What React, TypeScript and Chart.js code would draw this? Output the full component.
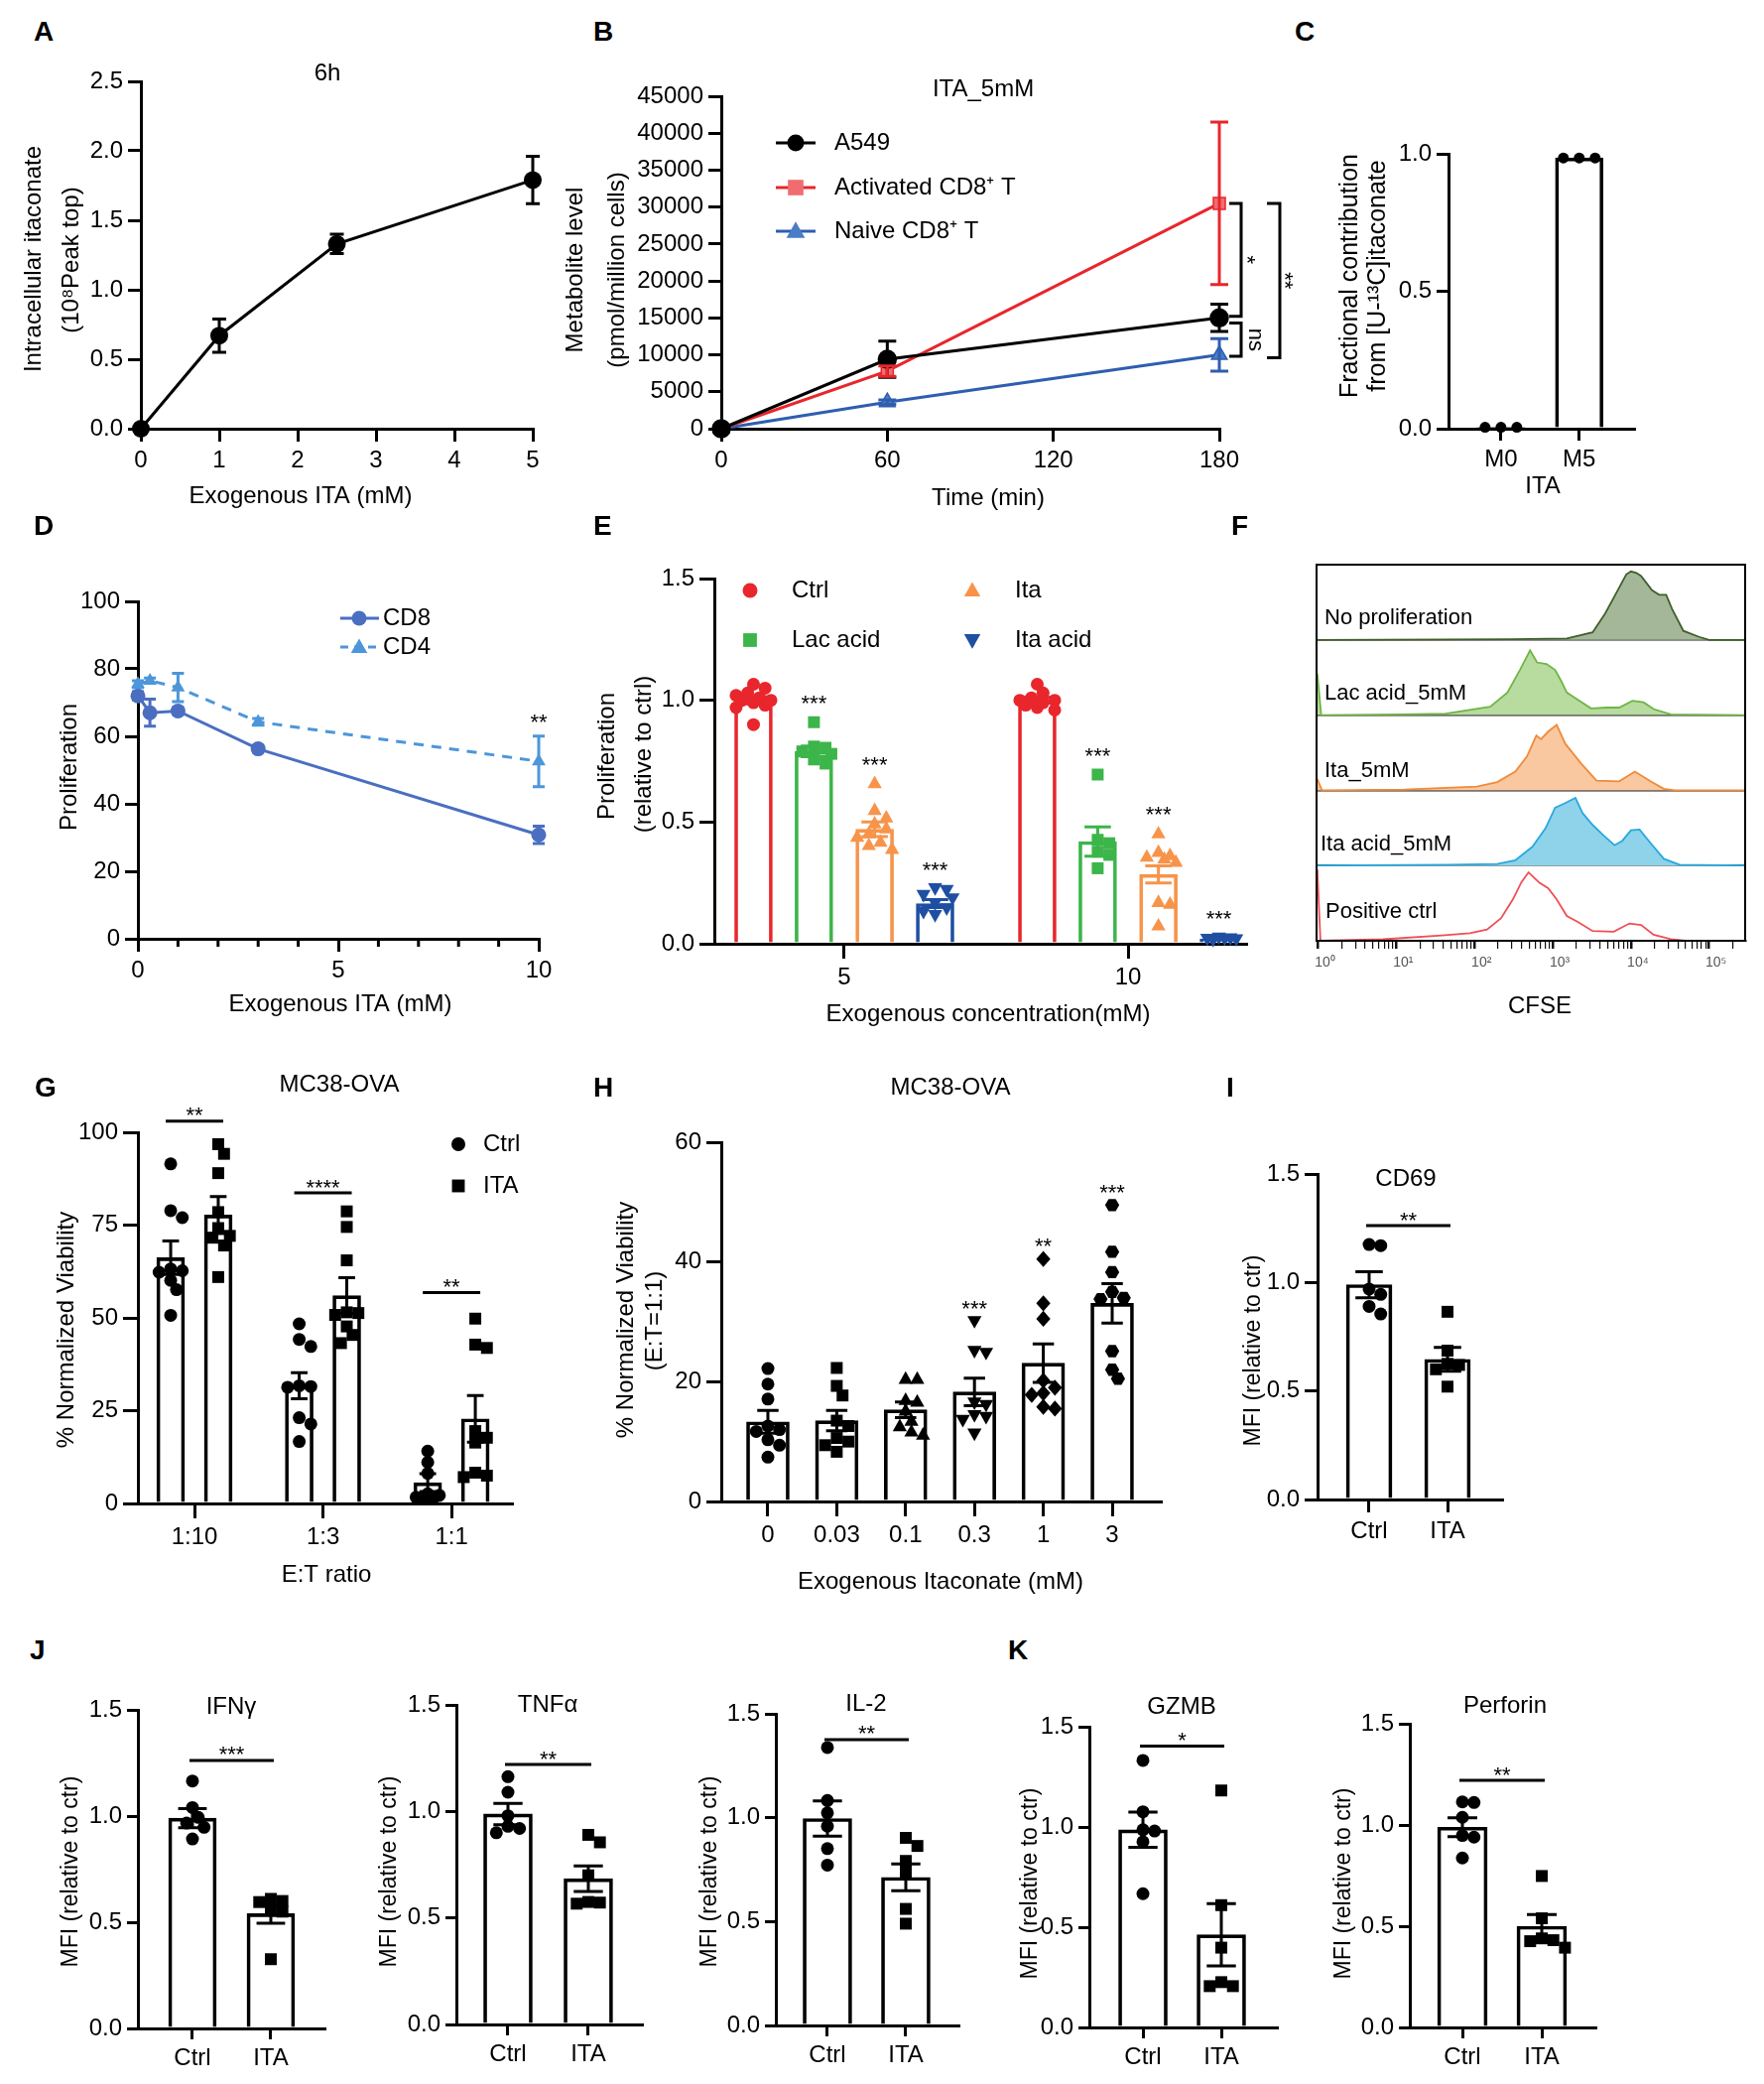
import React, { useEffect, useRef } from 'react';
import { Chart, registerables } from 'chart.js';

Chart.register(...registerables);

const FONT = "'Liberation Sans', Arial, Helvetica, sans-serif";
Chart.defaults.font.family = FONT;
Chart.defaults.color = '#000';

/* ====================== DATA ====================== */
// A – intracellular itaconate, 6 h
const aDose = [0, 1, 2.5, 5];
const aMean = [0.0, 0.67, 1.33, 1.79];
const aSem = [0, 0.12, 0.07, 0.17];
const aXTicks = [0, 1, 2, 3, 4, 5];

// B – ITA_5mM uptake
const bTime = [0, 60, 180];
const bA549 = [0, 9400, 15000];
const bA549Sem = [0, 2450, 1850];
const bActivated = [0, 7800, 30500];
const bActivatedSem = [0, 700, 11000];
const bNaive = [0, 3600, 10000];
const bNaiveSem = [0, 300, 2200];
const bSeries = ['A549', 'Activated CD8⁺ T', 'Naive CD8⁺ T'];
const bXTicks = [0, 60, 120, 180];

// C – isotopologue fractions
const cIsotopes = ['M0', 'M5'];
const cMean = [0.005, 0.985];
const cM0Dots = [0.005, 0.005, 0.005];
const cM5Dots = [0.985, 0.985, 0.985];

// D – proliferation vs ITA
const dDose = [0, 0.3, 1, 3, 10];
const dCD8 = [72, 67, 67.5, 56.3, 30.8];
const dCD8Sem = [1.2, 4, 1, 1, 2.6];
const dCD4 = [75.5, 76.5, 74.5, 64.3, 52.6];
const dCD4Sem = [1, 0.8, 4.2, 1, 7.5];
const dSeries = ['CD8', 'CD4'];
const dXTicks = [0, 5, 10];

// E – proliferation relative to ctrl
const eConc = [5, 10];
const eSeries = ['Ctrl', 'Lac acid', 'Ita', 'Ita acid'];
const eCtrlMean = [1.0, 1.0];
const eLacMean = [0.79, 0.42];
const eItaMean = [0.47, 0.285];
const eItaAcidMean = [0.165, 0.02];
const eCtrlSem = [0.015, 0.012];
const eLacSem = [0.022, 0.06];
const eItaSem = [0.03, 0.035];
const eItaAcidSem = [0.016, 0.004];
const eCtrlDots = [[1.066, 1.05, 1.03, 1.02, 1.01, 1.0, 1.0, 0.99, 0.98, 0.97, 0.9], [1.066, 1.03, 1.01, 1.0, 1.0, 0.99, 0.98, 0.97, 0.96]];
const eLacDots = [[0.91, 0.81, 0.805, 0.79, 0.78, 0.757, 0.74], [0.695, 0.427, 0.413, 0.378, 0.365, 0.31]];
const eItaDots = [[0.66, 0.55, 0.52, 0.495, 0.475, 0.454, 0.44, 0.42, 0.406, 0.39], [0.454, 0.378, 0.365, 0.358, 0.35, 0.337, 0.172, 0.165, 0.076]];
const eItaAcidDots = [[0.227, 0.22, 0.2, 0.186, 0.165, 0.145, 0.13, 0.117], [0.025, 0.022, 0.02, 0.018, 0.015, 0.02]];
const eSig = ['', '***', '***', '***'];

// F – CFSE histograms: [log10(CFSE), relative count]
const fNoProlif = [[-0.02, 0], [2.47, 0.01], [3.18, 0.02], [3.51, 0.1], [3.67, 0.35], [3.8, 0.6], [3.94, 0.87], [4.0, 0.91], [4.07, 0.89], [4.13, 0.85], [4.27, 0.66], [4.36, 0.6], [4.45, 0.6], [4.53, 0.4], [4.67, 0.12], [4.87, 0.04], [5.0, 0], [5.46, 0]];
const fLac = [[-0.01, 0.55], [0.04, 0], [1.05, 0.01], [1.63, 0.02], [2.2, 0.11], [2.42, 0.3], [2.58, 0.6], [2.71, 0.86], [2.8, 0.7], [2.92, 0.68], [3.03, 0.6], [3.11, 0.45], [3.18, 0.3], [3.27, 0.24], [3.49, 0.09], [3.69, 0.1], [3.85, 0.1], [4.02, 0.19], [4.16, 0.17], [4.29, 0.08], [4.51, 0.01], [5.46, 0]];
const fIta = [[-0.01, 0.15], [0.05, 0], [1.1, 0.01], [2.03, 0.05], [2.29, 0.11], [2.52, 0.25], [2.67, 0.45], [2.79, 0.73], [2.85, 0.68], [2.94, 0.78], [3.05, 0.87], [3.16, 0.62], [3.36, 0.36], [3.56, 0.13], [3.85, 0.12], [4.05, 0.25], [4.25, 0.12], [4.42, 0.02], [4.56, 0], [5.46, 0]];
const fItaAcid = [[-0.02, 0], [1.67, 0.01], [2.29, 0.02], [2.52, 0.07], [2.74, 0.25], [2.91, 0.5], [3.03, 0.77], [3.14, 0.82], [3.29, 0.9], [3.38, 0.7], [3.51, 0.54], [3.65, 0.4], [3.79, 0.27], [3.89, 0.33], [4.0, 0.47], [4.11, 0.48], [4.25, 0.3], [4.42, 0.09], [4.62, 0.01], [5.46, 0]];
const fPositive = [[-0.01, 0.95], [0.03, 0], [0.83, 0.02], [1.58, 0.07], [1.94, 0.1], [2.16, 0.15], [2.34, 0.3], [2.49, 0.55], [2.6, 0.78], [2.69, 0.91], [2.83, 0.77], [2.94, 0.7], [3.05, 0.55], [3.18, 0.33], [3.32, 0.25], [3.51, 0.13], [3.78, 0.12], [3.98, 0.23], [4.13, 0.21], [4.29, 0.08], [4.51, 0.02], [4.7, 0], [5.46, 0]];
const fLabels = ['No proliferation', 'Lac acid_5mM', 'Ita_5mM', 'Ita acid_5mM', 'Positive ctrl'];
const fDecades = [0, 1, 2, 3, 4, 5];
const fDecadeLabels = ['10⁰', '10¹', '10²', '10³', '10⁴', '10⁵'];

// G – killing, E:T ratios
const gRatios = ['1:10', '1:3', '1:1'];
const gCtrlMean = [66.2, 31.7, 5.6];
const gCtrlSem = [4.5, 3.5, 2.4];
const gItaMean = [77.7, 56.0, 22.8];
const gItaSem = [5.0, 4.8, 6.3];
const gCtrlDots = [[91.5, 78.9, 77.0, 63.2, 62.7, 62.3, 60.1, 57.6, 50.7], [48.4, 44.2, 42.3, 31.7, 31.5, 31.3, 23.1, 21.4, 16.7], [14.1, 11.1, 8.1, 2.6, 2.2, 1.7, 1.5, 1.2, 1.2]];
const gItaDots = [[96.8, 94.2, 89.0, 78.5, 74.2, 72.1, 71.6, 69.5, 61.0], [78.7, 74.5, 65.5, 51.5, 51.3, 50.8, 47.7, 45.4, 43.2], [49.8, 42.8, 41.9, 19.5, 17.7, 16.4, 8.3, 7.5, 7.1]];
const gSig = ['**', '****', '**'];
const gSigY = [103, 83.7, 56.8];
const gSeries = ['Ctrl', 'ITA'];

// H – killing vs itaconate dose
const hDoses = ['0', '0.03', '0.1', '0.3', '1', '3'];
const hMean = [13.3, 13.5, 15.3, 18.3, 23.1, 33.1];
const hSem = [1.9, 1.7, 1.3, 2.3, 3.2, 3.3];
const hDots = [
  [22.2, 19.6, 17.1, 12.6, 12.0, 11.7, 10.3, 9.4, 7.4],
  [22.3, 19.3, 17.7, 13.5, 12.6, 10.6, 10.0, 9.4, 8.3],
  [20.5, 20.5, 17.0, 16.7, 15.2, 13.5, 12.6, 11.7, 11.2],
  [30.1, 25.1, 24.8, 16.5, 16.1, 14.4, 14.1, 13.6, 11.3],
  [40.5, 33.1, 30.5, 20.2, 19.0, 18.1, 17.8, 15.8, 15.5],
  [49.5, 41.7, 38.3, 35.0, 34.0, 33.8, 25.1, 22.0, 20.5],
];
const hSig = ['', '', '', '***', '**', '***'];

// I–K – MFI relative to ctrl
const mfiGroups = ['Ctrl', 'ITA'];
const iCD69Mean = [0.99, 0.646];
const iCD69Sem = [0.06, 0.055];
const iCD69Ctrl = [1.175, 1.17, 0.97, 0.945, 0.89, 0.855];
const iCD69Ita = [0.865, 0.686, 0.625, 0.62, 0.6, 0.52];
const jIfngMean = [0.99, 0.54];
const jIfngSem = [0.045, 0.045];
const jIfngCtrl = [1.165, 1.04, 0.994, 0.967, 0.947, 0.892];
const jIfngIta = [0.61, 0.6, 0.595, 0.557, 0.55, 0.326];
const jTnfaMean = [0.988, 0.684];
const jTnfaSem = [0.05, 0.06];
const jTnfaCtrl = [1.163, 1.09, 0.98, 0.93, 0.92, 0.9];
const jTnfaIta = [0.89, 0.855, 0.7, 0.575, 0.572, 0.567];
const jIl2Mean = [0.996, 0.713];
const jIl2Sem = [0.085, 0.065];
const jIl2Ctrl = [1.338, 1.083, 1.023, 0.959, 0.851, 0.772];
const jIl2Ita = [0.903, 0.864, 0.792, 0.736, 0.561, 0.49];
const kGzmbMean = [0.986, 0.462];
const kGzmbSem = [0.088, 0.155];
const kGzmbCtrl = [1.332, 1.076, 0.986, 0.98, 0.926, 0.667];
const kGzmbIta = [1.182, 0.61, 0.398, 0.226, 0.206, 0.206];
const kPerfMean = [0.989, 0.5];
const kPerfSem = [0.047, 0.057];
const kPerfCtrl = [1.114, 1.111, 1.038, 0.948, 0.94, 0.837];
const kPerfIta = [0.748, 0.539, 0.44, 0.431, 0.426, 0.394];

/* ====================== STYLE / LAYOUT ====================== */
const bColors = ['#000000', '#e8262c', '#2f5eb0'];
const bFills = ['#000000', '#f06d6f', '#4b7cc6'];
const bShapes = ['circle', 'square', 'tri'];
const bLegendY = [144, 189, 233];
const dColors = ['#4a6fc1', '#4d96d9'];
const eColors = ['#e8262c', '#3cb54a', '#f7944a', '#1f4fa2'];
const eShapes = ['circle', 'square', 'tri', 'tridown'];
const eOffsets = [-1.6, -0.535, 0.535, 1.6];
const eLegendPos = [[756, 595, 798], [756, 645, 798], [980, 595, 1023], [980, 645, 1023]];
const fLine = ['#3f5f2a', '#6fb544', '#f08a3a', '#27a9de', '#ef4f55'];
const fFill = ['#a4b899', '#b8dba0', '#f9c8a0', '#8ed3ea', 'rgba(0,0,0,0)'];
const fLabelPos = [[1335, 623], [1335, 699], [1335, 777], [1331, 851], [1336, 919]];
const gOffsets = [-0.185, 0.185];
const hShapes = ['circle', 'square', 'tri', 'tridown', 'diamond', 'hex'];

type Box = { cx: number; cy: number; cw: number; ch: number; l: number; t: number; r: number; b: number };
const boxA: Box = { cx: 0, cy: 50, cw: 562, ch: 480, l: 142, t: 82, r: 537, b: 432 };
const boxB: Box = { cx: 560, cy: 50, cw: 760, ch: 480, l: 727, t: 97, r: 1229, b: 432 };
const boxC: Box = { cx: 1320, cy: 50, cw: 440, ch: 480, l: 1460, t: 155, r: 1647, b: 432 };
const boxD: Box = { cx: 0, cy: 560, cw: 562, ch: 480, l: 139, t: 606, r: 543, b: 946 };
const boxE: Box = { cx: 560, cy: 560, cw: 720, ch: 480, l: 720, t: 583, r: 1256, b: 951 };
const boxF: Box = { cx: 1280, cy: 540, cw: 498, ch: 500, l: 1327, t: 569, r: 1759, b: 948 };
const boxG: Box = { cx: 0, cy: 1070, cw: 562, ch: 540, l: 139, t: 1141, r: 516, b: 1515 };
const boxH: Box = { cx: 560, cy: 1070, cw: 640, ch: 540, l: 727, t: 1151, r: 1170, b: 1513 };
const boxI: Box = { cx: 1200, cy: 1070, cw: 400, ch: 540, l: 1328, t: 1183, r: 1514, b: 1511 };
const boxJ1: Box = { cx: 0, cy: 1680, cw: 350, ch: 420, l: 139, t: 1723, r: 327, b: 2044 };
const boxJ2: Box = { cx: 350, cy: 1680, cw: 320, ch: 420, l: 460, t: 1718, r: 647, b: 2040 };
const boxJ3: Box = { cx: 670, cy: 1680, cw: 320, ch: 420, l: 782, t: 1727, r: 966, b: 2041 };
const boxK1: Box = { cx: 1000, cy: 1680, cw: 320, ch: 420, l: 1098, t: 1740, r: 1287, b: 2043 };
const boxK2: Box = { cx: 1320, cy: 1680, cw: 330, ch: 420, l: 1421, t: 1737, r: 1608, b: 2043 };

const letters: [string, number, number][] = [
  ['A', 44, 32], ['B', 608, 32], ['C', 1315, 32], ['D', 44, 530], ['E', 608, 530], ['F', 1251, 530],
  ['G', 45, 1096], ['H', 608, 1096], ['I', 1246, 1096], ['J', 40, 1663], ['K', 1026, 1663],
];

/* ====================== HELPERS ====================== */
const f1 = (v: number) => v.toFixed(1);
const f0 = (v: number) => String(Math.round(v));

function pads(b: Box) {
  return { padL: b.l - b.cx, padT: b.t - b.cy, padR: b.cx + b.cw - b.r, padB: b.cy + b.ch - b.b };
}

function scaleX(min: number, max: number, padB: number, vals: number[], labels: string[], o: any = {}) {
  return {
    type: 'linear', min, max, offset: false,
    afterBuildTicks: (s: any) => { s.ticks = vals.map((v) => ({ value: v })); },
    afterFit: (s: any) => { s.height = padB; s.paddingLeft = 0; s.paddingRight = 0; },
    ticks: { autoSkip: false, maxRotation: 0, minRotation: 0, padding: o.tickPad ?? 5, color: '#000', font: { size: o.fontSize ?? 24 }, callback: (_v: any, i: number) => labels[i] },
    grid: { display: true, drawOnChartArea: false, drawTicks: true, tickLength: o.tickLen ?? 13, color: '#000', lineWidth: 3, offset: false },
    border: { display: true, color: '#000', width: 3 },
  };
}
function scaleY(min: number, max: number, step: number, padL: number, fmt: (v: number) => string, o: any = {}) {
  return {
    type: 'linear', min, max,
    afterFit: (s: any) => { s.width = padL; s.paddingTop = 0; s.paddingBottom = 0; },
    ticks: { stepSize: step, autoSkip: false, padding: o.tickPad ?? 5, color: '#000', font: { size: o.fontSize ?? 24 }, callback: (v: number) => fmt(v) },
    grid: { display: true, drawOnChartArea: false, drawTicks: true, tickLength: o.tickLen ?? 13, color: '#000', lineWidth: 3 },
    border: { display: true, color: '#000', width: 3 },
  };
}
function opts(pd: any, scales: any) {
  return {
    responsive: false, maintainAspectRatio: false, animation: false, devicePixelRatio: 1, events: [],
    layout: { padding: { left: 0, top: pd.padT, right: pd.padR, bottom: 0 } },
    plugins: { legend: { display: false }, tooltip: { enabled: false }, title: { display: false } },
    scales,
  };
}

type Txt = { t: string; x: number; y: number; size?: number; bold?: boolean; align?: CanvasTextAlign; rot?: number; color?: string; base?: CanvasTextBaseline };
function drawText(ctx: CanvasRenderingContext2D, t: Txt) {
  ctx.save();
  ctx.translate(t.x, t.y);
  if (t.rot) ctx.rotate((t.rot * Math.PI) / 180);
  ctx.font = `${t.bold ? 'bold ' : ''}${t.size ?? 24}px ${FONT}`;
  ctx.fillStyle = t.color ?? '#000';
  ctx.textAlign = t.align ?? 'center';
  ctx.textBaseline = t.base ?? 'middle';
  ctx.fillText(t.t, 0, 0);
  ctx.restore();
}
function drawStars(ctx: CanvasRenderingContext2D, text: string, x: number, yc: number, size = 22, rot = 0) {
  ctx.save();
  ctx.translate(x, yc);
  if (rot) ctx.rotate((rot * Math.PI) / 180);
  ctx.font = `${size}px ${FONT}`;
  ctx.fillStyle = '#000';
  ctx.textAlign = 'center';
  ctx.textBaseline = 'alphabetic';
  ctx.fillText(text, 0, size * 0.57);
  ctx.restore();
}
function marker(ctx: CanvasRenderingContext2D, shape: string, x: number, y: number, r: number, color: string) {
  ctx.beginPath();
  if (shape === 'circle') ctx.arc(x, y, r, 0, Math.PI * 2);
  else if (shape === 'square') ctx.rect(x - r * 0.92, y - r * 0.92, r * 1.84, r * 1.84);
  else if (shape === 'tri') { ctx.moveTo(x, y - r * 1.15); ctx.lineTo(x + r * 1.1, y + r * 0.8); ctx.lineTo(x - r * 1.1, y + r * 0.8); ctx.closePath(); }
  else if (shape === 'tridown') { ctx.moveTo(x, y + r * 1.15); ctx.lineTo(x + r * 1.1, y - r * 0.8); ctx.lineTo(x - r * 1.1, y - r * 0.8); ctx.closePath(); }
  else if (shape === 'diamond') { ctx.moveTo(x, y - r * 1.25); ctx.lineTo(x + r * 1.1, y); ctx.lineTo(x, y + r * 1.25); ctx.lineTo(x - r * 1.1, y); ctx.closePath(); }
  else if (shape === 'hex') {
    for (let k = 0; k < 6; k++) {
      const a = (Math.PI / 3) * k;
      const px = x + r * 1.1 * Math.cos(a), py = y + r * 1.1 * Math.sin(a);
      if (k) ctx.lineTo(px, py); else ctx.moveTo(px, py);
    }
    ctx.closePath();
  }
  ctx.fillStyle = color;
  ctx.fill();
}
// simple deterministic bee-swarm: spread points horizontally so they do not overlap
function swarm(ys: number[], cx: number, r: number, half: number, sep?: number) {
  const order = ys.map((_, i) => i).sort((a, b) => ys[a] - ys[b]);
  const placed: { x: number; y: number }[] = [];
  const out: { x: number; y: number }[] = new Array(ys.length);
  const minD = sep ?? r * 1.6;
  const step = sep ? sep / 2 : r * 0.9;
  for (const i of order) {
    const y = ys[i];
    let bestOff = 0, bestScore = -Infinity;
    for (let k = 0; k < 20; k++) {
      const off = k === 0 ? 0 : (k % 2 === 1 ? 1 : -1) * Math.ceil(k / 2) * step;
      if (Math.abs(off) > half) break;
      const x = cx + off;
      const d = placed.length ? Math.min(...placed.map((p) => Math.hypot(p.x - x, p.y - y))) : Infinity;
      if (d >= minD) { bestOff = off; break; }
      if (d > bestScore) { bestScore = d; bestOff = off; }
    }
    const p = { x: cx + bestOff, y };
    placed.push(p);
    out[i] = p;
  }
  return out;
}
type Leg = { x: number; y: number; shape: string; color: string; r: number; text: string; tx: number; line?: [number, number]; dash?: number[]; lineColor?: string; size?: number };
function drawLegend(ctx: CanvasRenderingContext2D, items: Leg[], ox: number, oy: number) {
  items.forEach((it) => {
    const x = it.x - ox, y = it.y - oy;
    if (it.line) {
      ctx.save();
      ctx.strokeStyle = it.lineColor ?? it.color; ctx.lineWidth = 3; ctx.setLineDash(it.dash || []);
      ctx.beginPath(); ctx.moveTo(it.line[0] - ox, y); ctx.lineTo(it.line[1] - ox, y); ctx.stroke();
      ctx.restore();
    }
    marker(ctx, it.shape, x, y, it.r, it.color);
    drawText(ctx, { t: it.text, x: it.tx - ox, y, align: 'left', size: it.size ?? 24 });
  });
}
function overlay(box: Box, fn: (ctx: CanvasRenderingContext2D, chart: any) => void) {
  return { id: 'overlay', afterDatasetsDraw(chart: any) { const ctx = chart.ctx; ctx.save(); fn(ctx, chart); ctx.restore(); } };
}
function textLayer(box: Box, list: Txt[]) {
  return { id: 'textLayer', afterDraw(chart: any) { list.forEach((t) => drawText(chart.ctx, { ...t, x: t.x - box.cx, y: t.y - box.cy })); } };
}
const lineErrPlugin = {
  id: 'lineErr',
  afterDatasetsDraw(chart: any) {
    const ctx = chart.ctx;
    chart.data.datasets.forEach((ds: any, i: number) => {
      if (!ds.sem) return;
      const meta = chart.getDatasetMeta(i);
      const ys = chart.scales[meta.yAxisID];
      ctx.save();
      ctx.strokeStyle = ds.borderColor; ctx.lineWidth = 3; ctx.setLineDash([]);
      meta.data.forEach((el: any, j: number) => {
        const s = ds.sem[j];
        if (!s) return;
        const v = ds.data[j].y;
        const y1 = ys.getPixelForValue(v + s), y2 = ys.getPixelForValue(v - s), w = ds.capW || 7;
        ctx.beginPath();
        ctx.moveTo(el.x, y1); ctx.lineTo(el.x, y2);
        ctx.moveTo(el.x - w, y1); ctx.lineTo(el.x + w, y1);
        ctx.moveTo(el.x - w, y2); ctx.lineTo(el.x + w, y2);
        ctx.stroke();
      });
      ctx.restore();
    });
  },
};

type Group = { xs: number[]; means: number[]; sems: number[]; dots: number[][]; shape: string | string[]; color: string; width: number; r: number; stars?: string[]; starGap?: number; capRatio?: number; sep?: number };
type Sig = { x1: number; x2: number; y: number; text: string; ext?: number };
function buildBarPanel(box: Box, spec: any) {
  const pd = pads(box);
  const groups: Group[] = spec.groups;
  const datasets = groups.map((g) => ({
    type: 'bar',
    data: g.xs.map((x, i) => ({ x, y: g.means[i] })),
    backgroundColor: 'rgba(255,255,255,0)', borderColor: g.color, borderWidth: 3,
    barThickness: g.width, grouped: false, borderSkipped: 'start',
  }));
  return {
    type: 'bar',
    data: { datasets },
    options: opts(pd, {
      x: scaleX(spec.xMin, spec.xMax, pd.padB, spec.xTicks, spec.xLabels, spec.xo || {}),
      y: scaleY(0, spec.yMax, spec.yStep, pd.padL, spec.yFmt, spec.yo || {}),
    }),
    plugins: [
      overlay(box, (ctx, chart) => {
        const xs = chart.scales.x, ys = chart.scales.y;
        groups.forEach((g) => g.xs.forEach((xv, i) => {
          const cx = xs.getPixelForValue(xv);
          const shape = Array.isArray(g.shape) ? g.shape[i] : g.shape;
          const pts = swarm(g.dots[i].map((v) => ys.getPixelForValue(v)), cx, g.r, g.width / 2, g.sep);
          pts.forEach((p) => marker(ctx, shape, p.x, p.y, g.r, g.color));
        }));
        groups.forEach((g) => g.xs.forEach((xv, i) => {
          const s = g.sems[i];
          if (!s) return;
          const cx = xs.getPixelForValue(xv);
          const y1 = ys.getPixelForValue(g.means[i] + s), y2 = ys.getPixelForValue(Math.max(0, g.means[i] - s));
          const w = g.width * (g.capRatio ?? 0.3);
          ctx.strokeStyle = g.color; ctx.lineWidth = 3;
          ctx.beginPath();
          ctx.moveTo(cx, y1); ctx.lineTo(cx, y2);
          ctx.moveTo(cx - w, y1); ctx.lineTo(cx + w, y1);
          ctx.moveTo(cx - w, y2); ctx.lineTo(cx + w, y2);
          ctx.stroke();
        }));
        groups.forEach((g) => g.stars && g.xs.forEach((xv, i) => {
          if (!g.stars![i]) return;
          const top = Math.min(...g.dots[i].map((v) => ys.getPixelForValue(v)));
          drawStars(ctx, g.stars![i], xs.getPixelForValue(xv), top - (g.starGap ?? 22), 22);
        }));
        (spec.sigs || []).forEach((sg: Sig) => {
          const y = ys.getPixelForValue(sg.y);
          const x1 = xs.getPixelForValue(sg.x1) - (sg.ext ?? 3), x2 = xs.getPixelForValue(sg.x2) + (sg.ext ?? 3);
          ctx.strokeStyle = '#000'; ctx.lineWidth = 3;
          ctx.beginPath(); ctx.moveTo(x1, y); ctx.lineTo(x2, y); ctx.stroke();
          drawStars(ctx, sg.text, (x1 + x2) / 2, y - 11, 22);
        });
        if (spec.legend) drawLegend(ctx, spec.legend, box.cx, box.cy);
      }),
      textLayer(box, spec.texts || []),
    ],
  };
}

/* ====================== PANELS ====================== */
function buildA(box: Box) {
  const pd = pads(box);
  return {
    type: 'line',
    data: {
      datasets: [{
        data: aDose.map((x, i) => ({ x, y: aMean[i] })), borderColor: '#000', backgroundColor: '#000', borderWidth: 3,
        pointStyle: 'circle', pointRadius: 9, pointBackgroundColor: '#000', pointBorderWidth: 0, clip: false, sem: aSem, capW: 7,
      }],
    },
    options: opts(pd, { x: scaleX(0, 5, pd.padB, aXTicks, aXTicks.map(String)), y: scaleY(0, 2.5, 0.5, pd.padL, f1) }),
    plugins: [lineErrPlugin, textLayer(box, [
      { t: '6h', x: 330, y: 74 },
      { t: 'Intracellular itaconate', x: 34, y: 261, rot: -90 },
      { t: '(10⁸Peak top)', x: 72, y: 262, rot: -90 },
      { t: 'Exogenous ITA (mM)', x: 303, y: 500 },
    ])],
  };
}

function buildB(box: Box) {
  const pd = pads(box);
  const mk = (vals: number[], sem: number[], k: number, style: string, r: number) => ({
    data: bTime.map((x, i) => ({ x, y: vals[i] })), borderColor: bColors[k], backgroundColor: bFills[k], borderWidth: 3,
    pointStyle: style, pointRadius: r, pointBackgroundColor: bFills[k], pointBorderColor: bColors[k], pointBorderWidth: 1.5,
    clip: false, sem, capW: 9,
  });
  return {
    type: 'line',
    data: { datasets: [mk(bA549, bA549Sem, 0, 'circle', 9), mk(bActivated, bActivatedSem, 1, 'rect', 8.5), mk(bNaive, bNaiveSem, 2, 'triangle', 9)] },
    options: opts(pd, { x: scaleX(0, 180, pd.padB, bXTicks, bXTicks.map(String)), y: scaleY(0, 45000, 5000, pd.padL, f0) }),
    plugins: [
      lineErrPlugin,
      overlay(box, (ctx, chart) => {
        const ys = chart.scales.y, R = chart.chartArea.right;
        ctx.strokeStyle = '#000'; ctx.lineWidth = 3;
        const bracket = (x: number, xt: number, v1: number, v2: number) => {
          const y1 = ys.getPixelForValue(v1), y2 = ys.getPixelForValue(v2);
          ctx.beginPath(); ctx.moveTo(xt, y1); ctx.lineTo(x, y1); ctx.lineTo(x, y2); ctx.lineTo(xt, y2); ctx.stroke();
          return (y1 + y2) / 2;
        };
        const m1 = bracket(R + 22, R + 10, bActivated[2], bA549[2] + 200);
        const m2 = bracket(R + 22, R + 10, bA549[2] - 700, bNaive[2] - 200);
        const m3 = bracket(R + 61, R + 48, bActivated[2], bNaive[2] - 400);
        drawStars(ctx, '*', R + 34, m1, 22, 90);
        drawText(ctx, { t: 'ns', x: R + 36, y: m2, rot: 90, size: 22 });
        drawStars(ctx, '**', R + 72, m3, 22, 90);
        drawLegend(ctx, bSeries.map((s, k) => ({
          x: 802, y: bLegendY[k], shape: bShapes[k], color: bFills[k], lineColor: bColors[k], r: 8.5, text: s, tx: 841, line: [782, 822] as [number, number],
        })), box.cx, box.cy);
      }),
      textLayer(box, [
        { t: 'ITA_5mM', x: 991, y: 90 },
        { t: 'Metabolite level', x: 580, y: 272, rot: -90 },
        { t: '(pmol/million cells)', x: 622, y: 272, rot: -90 },
        { t: 'Time (min)', x: 996, y: 502 },
      ]),
    ],
  };
}

function buildC(box: Box) {
  return buildBarPanel(box, {
    xMin: -0.67, xMax: 1.7, xTicks: [0, 1], xLabels: cIsotopes, yMax: 1.0, yStep: 0.5, yFmt: f1,
    xo: { tickLen: 12 }, yo: { tickLen: 12 },
    groups: [{ xs: [0, 1], means: cMean, sems: [0, 0], dots: [cM0Dots, cM5Dots], shape: 'circle', color: '#000', width: 48, r: 5.5, sep: 16 }],
    texts: [
      { t: 'Fractional contribution', x: 1361, y: 278, rot: -90, size: 25 },
      { t: 'from [U-¹³C]itaconate', x: 1389, y: 278, rot: -90, size: 25 },
      { t: 'ITA', x: 1555, y: 490 },
    ],
  });
}

function buildD(box: Box) {
  const pd = pads(box);
  return {
    type: 'line',
    data: {
      datasets: [
        { data: dDose.map((x, i) => ({ x, y: dCD8[i] })), borderColor: dColors[0], backgroundColor: dColors[0], borderWidth: 3, pointStyle: 'circle', pointRadius: 7.5, pointBackgroundColor: dColors[0], pointBorderWidth: 0, clip: false, sem: dCD8Sem, capW: 6 },
        { data: dDose.map((x, i) => ({ x, y: dCD4[i] })), borderColor: dColors[1], backgroundColor: dColors[1], borderWidth: 3, borderDash: [10, 8], pointStyle: 'triangle', pointRadius: 8, pointBackgroundColor: dColors[1], pointBorderWidth: 0, clip: false, sem: dCD4Sem, capW: 6 },
      ],
    },
    options: opts(pd, { x: scaleX(0, 10, pd.padB, dXTicks, dXTicks.map(String)), y: scaleY(0, 100, 20, pd.padL, f0) }),
    plugins: [
      lineErrPlugin,
      overlay(box, (ctx, chart) => {
        const xs = chart.scales.x, B = chart.chartArea.bottom;
        ctx.strokeStyle = '#000'; ctx.lineWidth = 3;
        for (let v = 1; v < 10; v++) {
          if (v === 5) continue;
          const x = xs.getPixelForValue(v);
          ctx.beginPath(); ctx.moveTo(x, B); ctx.lineTo(x, B + 8); ctx.stroke();
        }
        drawStars(ctx, '**', xs.getPixelForValue(10), 722 - box.cy, 22);
        drawLegend(ctx, [
          { x: 362, y: 623, shape: 'circle', color: dColors[0], r: 7.5, text: dSeries[0], tx: 386, line: [343, 382] },
          { x: 362, y: 652, shape: 'tri', color: dColors[1], r: 7.5, text: dSeries[1], tx: 386, line: [343, 382], dash: [8, 6] },
        ], box.cx, box.cy);
      }),
      textLayer(box, [
        { t: 'Proliferation', x: 70, y: 773, rot: -90 },
        { t: 'Exogenous ITA (mM)', x: 343, y: 1012 },
      ]),
    ],
  };
}

function buildE(box: Box) {
  const means = [eCtrlMean, eLacMean, eItaMean, eItaAcidMean];
  const sems = [eCtrlSem, eLacSem, eItaSem, eItaAcidSem];
  const dots = [eCtrlDots, eLacDots, eItaDots, eItaAcidDots];
  return buildBarPanel(box, {
    xMin: 2.71, xMax: 12.08, xTicks: eConc, xLabels: eConc.map(String), yMax: 1.5, yStep: 0.5, yFmt: f1,
    xo: { tickLen: 15 }, yo: { tickLen: 15 },
    groups: eSeries.map((_, g) => ({
      xs: eConc.map((c) => c + eOffsets[g]), means: means[g], sems: sems[g], dots: dots[g], shape: eShapes[g],
      color: eColors[g], width: 38, r: 6.5, stars: eConc.map(() => eSig[g]), starGap: 24, capRatio: 0.35,
    })),
    legend: eSeries.map((s, g) => ({ x: eLegendPos[g][0], y: eLegendPos[g][1], shape: eShapes[g], color: eColors[g], r: 7.5, text: s, tx: eLegendPos[g][2] })),
    texts: [
      { t: 'Proliferation', x: 612, y: 762, rot: -90 },
      { t: '(relative to ctrl)', x: 649, y: 760, rot: -90 },
      { t: 'Exogenous concentration(mM)', x: 996, y: 1022 },
    ],
  });
}

function buildF(box: Box) {
  const pd = pads(box);
  const rows = [fNoProlif, fLac, fIta, fItaAcid, fPositive];
  const minor: number[] = [];
  for (let d = 0; d < 6; d++) for (let k = 2; k <= 9; k++) { const v = d + Math.log10(k); if (v < 5.46) minor.push(v); }
  return {
    type: 'line',
    data: {
      datasets: rows.map((pts, k) => {
        const base = 4 - k;
        return {
          data: pts.map(([x, h]) => ({ x, y: base + h })), borderColor: fLine[k], backgroundColor: fFill[k],
          fill: k < 4 ? { value: base } : false, borderWidth: 1.8, pointRadius: 0, tension: 0,
        };
      }),
    },
    options: opts(pd, {
      x: {
        type: 'linear', min: -0.02, max: 5.46, offset: false,
        afterBuildTicks: (s: any) => { s.ticks = [...fDecades, ...minor].sort((a, b) => a - b).map((v) => ({ value: v })); },
        afterFit: (s: any) => { s.height = pd.padB; s.paddingLeft = 0; s.paddingRight = 0; },
        ticks: { autoSkip: false, maxRotation: 0, minRotation: 0, padding: 6, labelOffset: 7, color: '#555', font: { size: 14 }, callback: (v: number) => { const k = fDecades.indexOf(v); return k >= 0 ? fDecadeLabels[k] : ''; } },
        grid: { display: true, drawOnChartArea: false, drawTicks: true, tickLength: 8, color: '#111', lineWidth: (c: any) => (c.tick && Number.isInteger(c.tick.value) ? 2.5 : 1.2) },
        border: { display: true, color: '#000', width: 2 },
      },
      y: {
        type: 'linear', min: 0, max: 5,
        afterBuildTicks: (s: any) => { s.ticks = [0, 1, 2, 3, 4, 5].map((v) => ({ value: v })); },
        afterFit: (s: any) => { s.width = pd.padL; s.paddingTop = 0; s.paddingBottom = 0; },
        ticks: { display: false },
        grid: { display: true, drawOnChartArea: true, drawTicks: false, color: '#222', lineWidth: 1.6 },
        border: { display: true, color: '#000', width: 2 },
      },
    }),
    plugins: [
      overlay(box, (ctx, chart) => {
        const a = chart.chartArea;
        ctx.strokeStyle = '#000'; ctx.lineWidth = 2;
        ctx.strokeRect(a.left, a.top, a.right - a.left, a.bottom - a.top);
      }),
      textLayer(box, [
        ...fLabels.map((t, k) => ({ t, x: fLabelPos[k][0], y: fLabelPos[k][1], align: 'left' as CanvasTextAlign, size: 22 })),
        { t: 'CFSE', x: 1552, y: 1014 },
      ]),
    ],
  };
}

function buildG(box: Box) {
  return buildBarPanel(box, {
    xMin: -0.44, xMax: 2.47, xTicks: [0, 1, 2], xLabels: gRatios, yMax: 100, yStep: 25, yFmt: f0,
    xo: { tickLen: 15 }, yo: { tickLen: 15 },
    groups: [
      { xs: gRatios.map((_, i) => i + gOffsets[0]), means: gCtrlMean, sems: gCtrlSem, dots: gCtrlDots, shape: 'circle', color: '#000', width: 28, r: 6.5 },
      { xs: gRatios.map((_, i) => i + gOffsets[1]), means: gItaMean, sems: gItaSem, dots: gItaDots, shape: 'square', color: '#000', width: 28, r: 6.5 },
    ],
    sigs: gRatios.map((_, i) => ({ x1: i + gOffsets[0], x2: i + gOffsets[1], y: gSigY[i], text: gSig[i], ext: 5 })),
    legend: [
      { x: 462, y: 1153, shape: 'circle', color: '#000', r: 7, text: gSeries[0], tx: 487 },
      { x: 462, y: 1195, shape: 'square', color: '#000', r: 7, text: gSeries[1], tx: 487 },
    ],
    texts: [
      { t: 'MC38-OVA', x: 342, y: 1093 },
      { t: '% Normalized Viability', x: 67, y: 1340, rot: -90 },
      { t: 'E:T ratio', x: 329, y: 1587 },
    ],
  });
}

function buildH(box: Box) {
  return buildBarPanel(box, {
    xMin: -0.677, xMax: 5.706, xTicks: hDoses.map((_, i) => i), xLabels: hDoses, yMax: 60, yStep: 20, yFmt: f0,
    xo: { tickLen: 15 }, yo: { tickLen: 15 },
    groups: [{ xs: hDoses.map((_, i) => i), means: hMean, sems: hSem, dots: hDots, shape: hShapes, color: '#000', width: 43, r: 6.5, stars: hSig, starGap: 18, capRatio: 0.25 }],
    texts: [
      { t: 'MC38-OVA', x: 958, y: 1096 },
      { t: '% Normalized Viability', x: 631, y: 1330, rot: -90 },
      { t: '(E:T=1:1)', x: 660, y: 1331, rot: -90 },
      { t: 'Exogenous Itaconate (mM)', x: 948, y: 1594 },
    ],
  });
}

function mfiPanel(box: Box, p: any) {
  return buildBarPanel(box, {
    xMin: p.xMin, xMax: p.xMax, xTicks: [0, 1], xLabels: mfiGroups, yMax: 1.5, yStep: 0.5, yFmt: f1,
    xo: { tickLen: p.tick ?? 11 }, yo: { tickLen: p.tick ?? 11 },
    groups: [{ xs: [0, 1], means: p.mean, sems: p.sem, dots: [p.ctrl, p.ita], shape: ['circle', 'square'], color: '#000', width: p.width, r: 6.5 }],
    sigs: [{ x1: 0, x2: 1, y: p.sigY, text: p.sig, ext: 3 }],
    texts: p.texts,
  });
}

const buildI = (box: Box) => mfiPanel(box, { xMin: -0.658, xMax: 1.696, width: 46, tick: 13, mean: iCD69Mean, sem: iCD69Sem, ctrl: iCD69Ctrl, ita: iCD69Ita, sigY: 1.262, sig: '**',
  texts: [{ t: 'CD69', x: 1417, y: 1188 }, { t: 'MFI (relative to ctr)', x: 1264, y: 1361, rot: -90, size: 23 }] });
const buildJ1 = (box: Box) => mfiPanel(box, { xMin: -0.696, xMax: 1.684, width: 48, mean: jIfngMean, sem: jIfngSem, ctrl: jIfngCtrl, ita: jIfngIta, sigY: 1.262, sig: '***',
  texts: [{ t: 'IFNγ', x: 233, y: 1720 }, { t: 'MFI (relative to ctr)', x: 72, y: 1886, rot: -90, size: 23 }] });
const buildJ2 = (box: Box) => mfiPanel(box, { xMin: -0.642, xMax: 1.667, width: 49, mean: jTnfaMean, sem: jTnfaSem, ctrl: jTnfaCtrl, ita: jTnfaIta, sigY: 1.22, sig: '**',
  texts: [{ t: 'TNFα', x: 552, y: 1718 }, { t: 'MFI (relative to ctr)', x: 393, y: 1886, rot: -90, size: 23 }] });
const buildJ3 = (box: Box) => mfiPanel(box, { xMin: -0.658, xMax: 1.671, width: 49, mean: jIl2Mean, sem: jIl2Sem, ctrl: jIl2Ctrl, ita: jIl2Ita, sigY: 1.376, sig: '**',
  texts: [{ t: 'IL-2', x: 873, y: 1717 }, { t: 'MFI (relative to ctr)', x: 716, y: 1886, rot: -90, size: 23 }] });
const buildK1 = (box: Box) => mfiPanel(box, { xMin: -0.684, xMax: 1.709, width: 49, mean: kGzmbMean, sem: kGzmbSem, ctrl: kGzmbCtrl, ita: kGzmbIta, sigY: 1.404, sig: '*',
  texts: [{ t: 'GZMB', x: 1191, y: 1720 }, { t: 'MFI (relative to ctr)', x: 1039, y: 1898, rot: -90, size: 23 }] });
const buildK2 = (box: Box) => mfiPanel(box, { xMin: -0.6625, xMax: 1.675, width: 50, mean: kPerfMean, sem: kPerfSem, ctrl: kPerfCtrl, ita: kPerfIta, sigY: 1.22, sig: '**',
  texts: [{ t: 'Perforin', x: 1517, y: 1719 }, { t: 'MFI (relative to ctr)', x: 1355, y: 1898, rot: -90, size: 23 }] });

/* ====================== REACT ====================== */
function Panel({ box, build }: { box: Box; build: (b: Box) => any }) {
  const ref = useRef<HTMLCanvasElement>(null);
  useEffect(() => {
    const chart = new Chart(ref.current as HTMLCanvasElement, build(box) as any);
    return () => chart.destroy();
  }, []);
  return (
    <canvas ref={ref} width={box.cw} height={box.ch}
      style={{ position: 'absolute', left: box.cx, top: box.cy, width: box.cw, height: box.ch, display: 'block' }} />
  );
}

export default function App() {
  const panels: [Box, (b: Box) => any][] = [
    [boxA, buildA], [boxB, buildB], [boxC, buildC], [boxD, buildD], [boxE, buildE], [boxF, buildF],
    [boxG, buildG], [boxH, buildH], [boxI, buildI], [boxJ1, buildJ1], [boxJ2, buildJ2], [boxJ3, buildJ3],
    [boxK1, buildK1], [boxK2, buildK2],
  ];
  return (
    <div style={{ position: 'absolute', left: 0, top: 0, width: 1778, height: 2100, background: '#fff', overflow: 'hidden' }}>
      {panels.map(([b, f], i) => <Panel key={i} box={b} build={f} />)}
      {letters.map(([t, x, y]) => (
        <div key={t} style={{ position: 'absolute', left: x - 10, top: y - 14, font: `bold 28px ${FONT}`, lineHeight: '28px', color: '#000' }}>{t}</div>
      ))}
    </div>
  );
}
